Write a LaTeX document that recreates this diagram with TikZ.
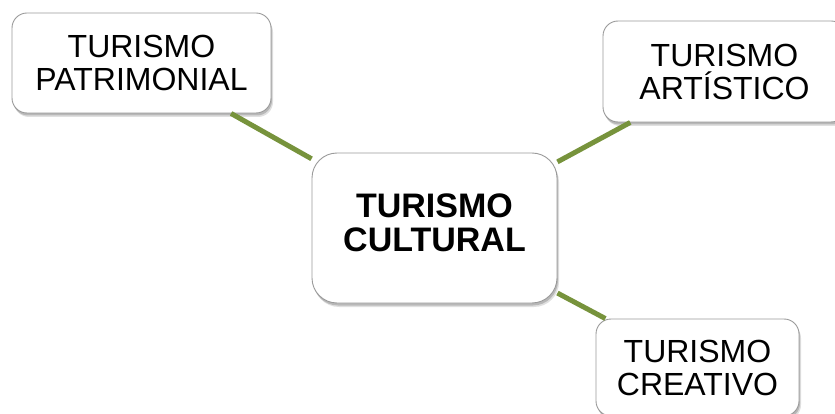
\documentclass[tikz,border=0pt]{standalone}
\usepackage{fontspec}
\setmainfont{Liberation Sans}
\usetikzlibrary{shadows}
\definecolor{olive}{HTML}{77933C}
\definecolor{boxline}{HTML}{9A9A9A}
\tikzset{
  topicbox/.style={draw=boxline, line width=0.9pt, fill=white, rectangle, inner sep=0pt,
    align=center, font=\fontsize{32}{33}\selectfont,
    drop shadow={shadow xshift=2pt, shadow yshift=-4pt, fill=black, opacity=0.12},
    drop shadow={shadow xshift=1pt, shadow yshift=-2.5pt, fill=black, opacity=0.18}},
  mainbox/.style={topicbox, font=\fontsize{34}{34}\selectfont\bfseries},
  link/.style={draw=olive, line width=5pt}
}
\begin{document}
\begin{tikzpicture}[x=1pt, y=-1pt]
\useasboundingbox (0,0) rectangle (835,414);
\clip (0,0) rectangle (835,414);
\node[topicbox, rounded corners=15pt, minimum width=259pt, minimum height=100pt] (pat) at (141.5,63) {TURISMO\\PATRIMONIAL};
\node[mainbox, rounded corners=25pt, minimum width=245pt, minimum height=150pt] (cul) at (434.5,228) {\raisebox{-1pt}{\begin{tabular}{@{}c@{}}TURISMO\\CULTURAL\end{tabular}}};
\node[topicbox, rounded corners=15pt, minimum width=243pt, minimum height=101pt] (art) at (724.5,71.5) {TURISMO\\ARTÍSTICO};
\node[topicbox, rounded corners=15pt, minimum width=203pt, minimum height=97pt] (cre) at (697.5,367.5) {TURISMO\\CREATIVO};
\draw[link] (cul) -- (pat);
\draw[link] (cul) -- (art);
\draw[link] (cul) -- (cre);
\end{tikzpicture}
\end{document}
